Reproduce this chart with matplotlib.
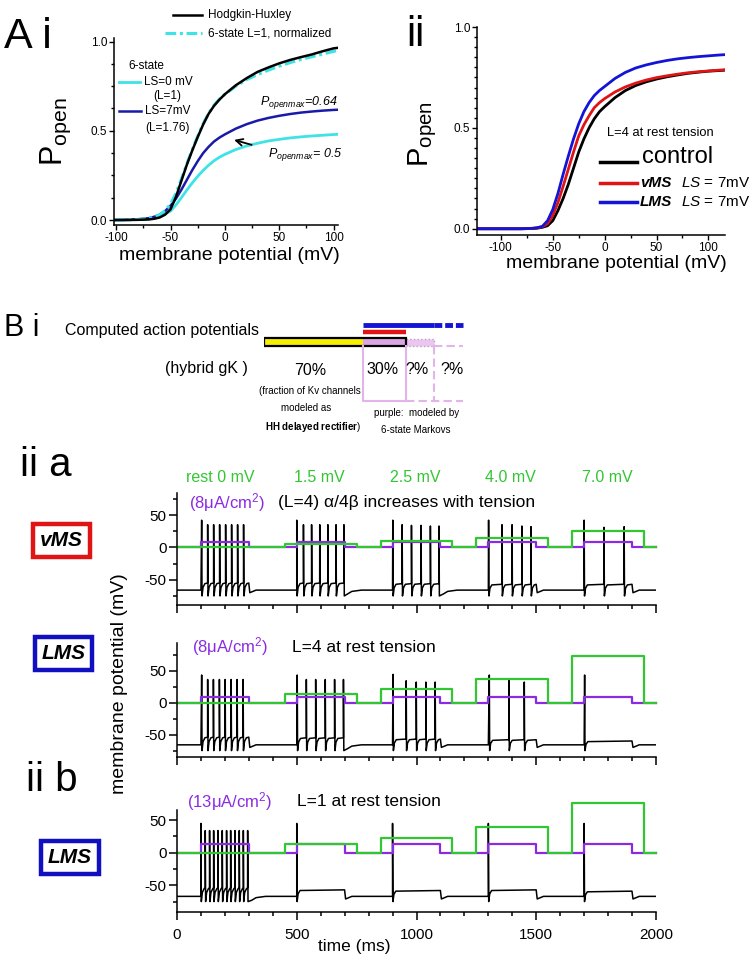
import matplotlib
matplotlib.use('Agg')
import matplotlib.pyplot as plt
from matplotlib.lines import Line2D
from matplotlib.patches import Rectangle
from matplotlib.ticker import MultipleLocator, FormatStrFormatter

plt.rcParams['font.family'] = ['Liberation Sans', 'DejaVu Sans']
plt.rcParams['mathtext.fontset'] = 'custom'
plt.rcParams['mathtext.rm'] = 'Liberation Sans'
plt.rcParams['mathtext.it'] = 'Liberation Sans:italic'
plt.rcParams['mathtext.bf'] = 'Liberation Sans:bold'
plt.rcParams['axes.unicode_minus'] = False

# ---------------- data: panel A i (P_open vs V) ----------------
ai_v = [-102, -90, -80, -70, -65, -60, -55, -50, -45, -40, -35, -30, -25, -20, -15,
        -10, -5, 0, 10, 20, 30, 40, 50, 60, 70, 80, 90, 100, 104]
ai_hh = [0, 0, 0.001, 0.003, 0.007, 0.014, 0.03, 0.06, 0.13, 0.22, 0.31, 0.39, 0.465,
         0.535, 0.595, 0.64, 0.675, 0.705, 0.755, 0.795, 0.83, 0.855, 0.878, 0.897,
         0.913, 0.928, 0.946, 0.962, 0.965]
ai_norm = [0, 0.001, 0.003, 0.008, 0.016, 0.03, 0.052, 0.09, 0.15, 0.23, 0.315, 0.395,
           0.47, 0.54, 0.598, 0.643, 0.678, 0.705, 0.75, 0.787, 0.815, 0.84, 0.862,
           0.882, 0.9, 0.915, 0.93, 0.945, 0.95]
ai_ls0 = [0, 0.001, 0.003, 0.008, 0.014, 0.024, 0.035, 0.05, 0.085, 0.125, 0.168, 0.208,
          0.245, 0.278, 0.307, 0.332, 0.352, 0.368, 0.395, 0.415, 0.43, 0.443, 0.452,
          0.46, 0.466, 0.471, 0.475, 0.479, 0.48]
ai_ls7 = [0, 0.001, 0.004, 0.01, 0.018, 0.03, 0.05, 0.08, 0.12, 0.17, 0.225, 0.28, 0.33,
          0.375, 0.41, 0.44, 0.462, 0.48, 0.512, 0.537, 0.557, 0.572, 0.584, 0.594,
          0.602, 0.608, 0.613, 0.617, 0.618]

# ---------------- data: panel A ii ----------------
aii_v = [-123, -100, -80, -70, -65, -60, -55, -50, -45, -40, -35, -30, -25, -20, -15,
         -10, -5, 0, 10, 20, 30, 40, 50, 60, 70, 80, 90, 100, 110, 116]
aii_ctrl = [0, 0, 0, 0.001, 0.003, 0.007, 0.015, 0.04, 0.09, 0.15, 0.22, 0.3, 0.38,
            0.445, 0.5, 0.545, 0.58, 0.605, 0.65, 0.685, 0.71, 0.728, 0.742, 0.753,
            0.762, 0.77, 0.776, 0.781, 0.784, 0.786]
aii_vms = [0, 0, 0, 0.002, 0.004, 0.01, 0.025, 0.065, 0.13, 0.21, 0.295, 0.38, 0.46,
           0.515, 0.56, 0.6, 0.625, 0.645, 0.678, 0.703, 0.722, 0.737, 0.749, 0.758,
           0.766, 0.773, 0.778, 0.782, 0.786, 0.788]
aii_lms = [0, 0, 0, 0.002, 0.005, 0.012, 0.04, 0.095, 0.175, 0.27, 0.36, 0.445, 0.52,
           0.58, 0.625, 0.66, 0.685, 0.705, 0.745, 0.775, 0.797, 0.812, 0.824, 0.834,
           0.842, 0.848, 0.853, 0.857, 0.861, 0.863]

# ---------------- data: panel B i ----------------
hh_frac = 70
markov_frac = 30
unknown_fracs = [20, 20]

# ---------------- data: panels ii a / ii b (traces) ----------------
stim_on = [100, 500, 900, 1300, 1700]
stim_off = [300, 700, 1100, 1500, 1900]
tension_on = [450, 850, 1250, 1650]
tension_off = [750, 1150, 1550, 1950]
tension_labels = ['rest 0 mV', '1.5 mV', '2.5 mV', '4.0 mV', '7.0 mV']

vms_current = [8, 8, 8, 8, 8]
vms_green = [5.5, 9.5, 15, 26]
vms_spikes = [103, 128, 153, 178, 203, 228, 253, 278,
              500, 528, 562, 596, 630, 664, 697,
              901, 940, 979, 1019, 1058, 1094,
              1301, 1357, 1399, 1440, 1478,
              1700, 1783, 1867]
vms_peaks = [42, 35, 35, 35, 35, 35, 35, 35,
             42, 35, 35, 35, 35, 35, 35,
             42, 35, 34, 34, 33, 33,
             42, 35, 35, 33, 32,
             42, 31, 32]
vms_plateau = [-56, -56, -57, -58, -58]
vms_rest = -66

lms_current = [8, 8, 8, 8, 8]
lms_green = [13, 21, 37, 73]
lms_spikes = [103, 128, 152, 177, 201, 226, 251, 276,
              502, 540, 579, 619, 658, 695,
              902, 957, 999, 1039, 1078,
              1304, 1386, 1450,
              1702]
lms_peaks = [43, 36, 36, 36, 36, 36, 36, 36,
             43, 36, 36, 36, 36, 36,
             44, 34, 32, 32, 32,
             43, 35, 32,
             43]
lms_plateau = [-55, -56, -58, -59, -61]
lms_rest = -66

lmsb_current = [13, 13, 13, 13, 13]
lmsb_green = [13, 23, 39, 77]
lmsb_spikes = [100, 118, 136, 153, 171, 189, 207, 224, 242, 260, 277, 295,
               500, 900, 1300, 1700]
lmsb_peaks = [45, 34, 34, 34, 34, 34, 34, 34, 34, 34, 34, 34,
              45, 45, 45, 45]
lmsb_plateau = [-55, -58, -59, -58, -60]
lmsb_rest = -67

# ---------------- colours ----------------
CYAN = '#3ee3e6'
DBLUE = '#1a1aa8'
BLUE = '#1414d6'
RED = '#e01414'
GREEN = '#33c633'
PURPLE = '#8a2be2'

W, H = 751, 960
fig = plt.figure(figsize=(W / 100, H / 100), dpi=100)
fig.patch.set_facecolor('white')


def fx(x):
    return x / W


def fy(y):
    return 1 - y / H


def box(l, t, r, b):
    return [fx(l), fy(b), (r - l) / W, (b - t) / H]


def ftext(x, y, s, **kw):
    kw.setdefault('va', 'center')
    return fig.text(fx(x), fy(y), s, **kw)


def fline(x0, x1, y, **kw):
    fig.add_artist(Line2D([fx(x0), fx(x1)], [fy(y), fy(y)],
                          transform=fig.transFigure, **kw))


def clean(ax):
    ax.spines['top'].set_visible(False)
    ax.spines['right'].set_visible(False)
    ax.spines['left'].set_linewidth(1.1)
    ax.spines['bottom'].set_linewidth(1.1)
    ax.patch.set_alpha(0)


# ================= A i =================
ax1 = fig.add_axes(box(114, 38, 338, 225))
ax1.plot(ai_v, ai_ls0, color=CYAN, lw=2)
ax1.plot(ai_v, ai_ls7, color=DBLUE, lw=1.8)
ax1.plot(ai_v, ai_norm, color=CYAN, lw=2.2, dashes=(3.5, 1.2, 1, 1.2))
ax1.plot(ai_v, ai_hh, color='k', lw=1.8)
ax1.set_xlim(-102, 104)
ax1.set_ylim(-0.028, 1.02)
clean(ax1)
ax1.set_xticks([-100, -50, 0, 50, 100])
ax1.xaxis.set_minor_locator(MultipleLocator(25))
ax1.set_yticks([0, 0.5, 1.0])
ax1.yaxis.set_minor_locator(MultipleLocator(0.125))
ax1.yaxis.set_major_formatter(FormatStrFormatter('%.1f'))
ax1.tick_params(which='major', length=3.5, width=1, labelsize=8.5, pad=1.5)
ax1.tick_params(which='minor', length=2, width=1)
ax1.annotate('', xy=(6, 0.453), xytext=(27, 0.417),
             arrowprops=dict(arrowstyle='->', lw=1.3, color='k', mutation_scale=12))
ftext(128, 66, '6-state', fontsize=8.5)
fline(119, 140, 82, color=CYAN, lw=2)
ftext(144, 82, 'LS=0 mV', fontsize=8.5)
ftext(167, 96, '(L=1)', fontsize=8.5, ha='center')
fline(119, 141, 111, color=DBLUE, lw=1.8)
ftext(145, 111, 'LS=7mV', fontsize=8.5)
ftext(167, 128, '(L=1.76)', fontsize=8.5, ha='center')
ftext(338, 103, r'$P_{openmax}$=0.64', fontsize=9, style='italic', ha='right')
ftext(343, 155, r'$P_{openmax}$= 0.5', fontsize=9, style='italic', ha='right')
fline(173, 202, 15, color='k', lw=1.8)
ftext(208, 15, 'Hodgkin-Huxley', fontsize=8.5)
fline(165, 202, 33, color=CYAN, lw=2.2, dashes=(3.5, 1.2, 1, 1.2))
ftext(208, 33, '6-state L=1, normalized', fontsize=8.5)
ftext(56, 132, r'P$_{\mathregular{open}}$', fontsize=22, rotation=90, ha='center')
ftext(229, 256, 'membrane potential (mV)', fontsize=14, ha='center')
ftext(4, 37, 'A i', fontsize=31)

# ================= A ii =================
ax2 = fig.add_axes(box(477, 27, 725, 235))
ax2.plot(aii_v, aii_ctrl, color='k', lw=2)
ax2.plot(aii_v, aii_vms, color=RED, lw=2)
ax2.plot(aii_v, aii_lms, color=BLUE, lw=2)
ax2.set_xlim(-123, 116)
ax2.set_ylim(-0.031, 1.0)
clean(ax2)
ax2.set_xticks([-100, -50, 0, 50, 100])
ax2.xaxis.set_minor_locator(MultipleLocator(25))
ax2.set_yticks([0, 0.5, 1.0])
ax2.yaxis.set_minor_locator(MultipleLocator(0.05))
ax2.yaxis.set_major_formatter(FormatStrFormatter('%.1f'))
ax2.tick_params(which='major', length=3.5, width=1, labelsize=8.5, pad=1.5)
ax2.tick_params(which='minor', length=2, width=1)
ftext(607, 133, 'L=4 at rest tension', fontsize=9.3)
fline(600, 637, 162, color='k', lw=2.5)
ftext(642, 157, 'control', fontsize=17)
fline(600, 637, 183, color=RED, lw=2.5)
ftext(640, 183, 'vMS', fontsize=11, fontweight='bold', style='italic')
ftext(681, 183, r'$\mathit{LS}$ = 7mV', fontsize=11)
fline(600, 637, 202, color=BLUE, lw=2.5)
ftext(640, 202, 'LMS', fontsize=11, fontweight='bold', style='italic')
ftext(681, 202, r'$\mathit{LS}$ = 7mV', fontsize=11)
ftext(423, 134, r'P$_{\mathregular{open}}$', fontsize=21, rotation=90, ha='center')
ftext(616, 263, 'membrane potential (mV)', fontsize=14, ha='center')
ftext(406, 35, 'ii', fontsize=30)

# ================= B i =================
bax = fig.add_axes(box(264, 318, 464, 405))
bax.set_xlim(0, 140.8)
bax.set_ylim(405, 318)
bax.axis('off')
left_m = hh_frac
right_m = hh_frac + markov_frac
q1 = right_m + unknown_fracs[0]
q2 = q1 + unknown_fracs[1]
LPUR = '#e2b4ea'
bax.add_patch(Rectangle((0, 338), hh_frac, 8, facecolor='#f6ef00', edgecolor='none'))
bax.add_patch(Rectangle((left_m, 338), markov_frac, 8, facecolor='#dca6e6', edgecolor='none'))
bax.add_patch(Rectangle((right_m, 338.5), unknown_fracs[0], 7.5, facecolor='#ebc6f1',
                        edgecolor='#b8a0c0', lw=1, ls=':'))
bax.add_patch(Rectangle((0, 338), right_m, 8, facecolor='none', edgecolor='k', lw=1.6))
bax.plot([left_m, q1], [325, 325], color=BLUE, lw=3.5, solid_capstyle='butt')
bax.plot([q1, q2], [325, 325], color=BLUE, lw=3.5, dashes=(1.6, 0.6))
bax.plot([left_m, right_m], [332, 332], color=RED, lw=3.2, solid_capstyle='butt')
bax.plot([left_m, left_m, right_m, right_m], [346, 401, 401, 346], color=LPUR, lw=1.5)
bax.plot([right_m, q2], [401, 401], color=LPUR, lw=1.5, dashes=(4, 2))
bax.plot([q1, q1], [346, 401], color=LPUR, lw=1.5, dashes=(4, 2))
bax.plot([q1, q2], [346, 346], color=LPUR, lw=1.5, dashes=(4, 2))
ftext(4, 328, 'B i', fontsize=22)
ftext(65, 331, 'Computed action potentials', fontsize=11.5)
ftext(248, 369, '(hybrid gK )', fontsize=11.5, ha='right')
ftext(310, 370, '70%', fontsize=11.5, ha='center')
ftext(383, 369, '30%', fontsize=11.5, ha='center')
ftext(417, 369, '?%', fontsize=11.5, ha='center')
ftext(452, 369, '?%', fontsize=11.5, ha='center')
ftext(310, 391, '(fraction of Kv channels', fontsize=7, ha='center')
ftext(306, 408, 'modeled as', fontsize=7, ha='center')
ftext(313, 427, r'$\mathbf{HH\ delayed\ rectifier}$)', fontsize=7, ha='center')
ftext(417, 413, 'purple:  modeled by', fontsize=7, ha='center')
ftext(416, 430, '6-state Markovs', fontsize=7, ha='center')


# ================= ii a / ii b traces =================
def build_steps(ons, offs, levels):
    t, y = [0], [0]
    for a, b, lev in zip(ons, offs, levels):
        t += [a, a, b, b]
        y += [0, lev, lev, 0]
    t.append(2000)
    y.append(0)
    return t, y


def build_trace(spikes, peaks, plateaus, rest, trough=-75):
    t, v = [0.0], [rest]
    for k, (on, off) in enumerate(zip(stim_on, stim_off)):
        seg = [(s, p) for s, p in zip(spikes, peaks) if on <= s <= off]
        plat = plateaus[k]
        t.append(on)
        v.append(rest)
        late = False
        for i, (s, p) in enumerate(seg):
            t += [s, s + 1.5]
            v += [p, trough]
            nxt = seg[i + 1][0] if i + 1 < len(seg) else off
            if i + 1 == len(seg) and off - s < 8:
                late = True
                break
            gap = nxt - s - 1.5
            r = min(12.0, 0.85 * gap)
            t += [s + 1.5 + 0.35 * r, s + 1.5 + r]
            v += [trough + 0.7 * (plat - trough), plat]
            if nxt - (s + 1.5 + r) > 1:
                t.append(nxt - 0.3)
                v.append(plat + 1)
        if late:
            t += [off + 12, off + 30, off + 70]
            v += [rest - 6, rest - 2, rest]
        else:
            t += [off + 4, off + 30]
            v += [rest - 4, rest]
    t.append(2000)
    v.append(rest)
    return t, v


def trace_panel(rect, ylim, spikes, peaks, plateaus, rest, current, green, show_x):
    ax = fig.add_axes(rect)
    tt, vv = build_trace(spikes, peaks, plateaus, rest)
    ax.plot(tt, vv, color='k', lw=1.1)
    pt, py = build_steps(stim_on, stim_off, current)
    ax.plot(pt, py, color=PURPLE, lw=1.6, clip_on=False)
    gt, gy = build_steps(tension_on, tension_off, green)
    ax.plot(gt, gy, color=GREEN, lw=1.6, clip_on=False)
    ax.set_xlim(0, 2000)
    ax.set_ylim(*ylim)
    clean(ax)
    ax.xaxis.set_major_locator(MultipleLocator(500))
    ax.xaxis.set_minor_locator(MultipleLocator(100))
    ax.set_yticks([-50, 0, 50])
    ax.yaxis.set_minor_locator(MultipleLocator(25))
    ax.tick_params(which='major', length=5.5, width=1.1, labelsize=11, pad=2)
    ax.tick_params(which='minor', length=3, width=1.1)
    if show_x:
        ax.tick_params(axis='x', pad=6)
    else:
        ax.tick_params(axis='x', labelbottom=False)
    return ax


trace_panel(box(177, 493, 656, 605), (-89, 84), vms_spikes, vms_peaks, vms_plateau,
            vms_rest, vms_current, vms_green, False)
trace_panel(box(177, 643, 656, 757), (-85, 93), lms_spikes, lms_peaks, lms_plateau,
            lms_rest, lms_current, lms_green, False)
trace_panel(box(177, 810, 656, 912), (-91, 65.6), lmsb_spikes, lmsb_peaks, lmsb_plateau,
            lmsb_rest, lmsb_current, lmsb_green, True)

for xc, lab in zip([220, 319, 415, 510, 607], tension_labels):
    ftext(xc, 478, lab, fontsize=11.5, color=GREEN, ha='center')

ftext(227, 503, r'(8μA/cm$^2$)', fontsize=12, color=PURPLE, ha='center')
ftext(278, 503, '(L=4) α/4β increases with tension', fontsize=12.5)
ftext(230, 647, r'(8μA/cm$^2$)', fontsize=12, color=PURPLE, ha='center')
ftext(292, 647, 'L=4 at rest tension', fontsize=12.5)
ftext(230, 802, r'(13μA/cm$^2$)', fontsize=12, color=PURPLE, ha='center')
ftext(297, 802, 'L=1 at rest tension', fontsize=12.5)

ftext(120, 684, 'membrane potential (mV)', fontsize=14, rotation=90, ha='center')
ftext(354, 946, 'time (ms)', fontsize=12.5, ha='center')

ftext(20, 465, 'ii a', fontsize=29)
ftext(26, 780, 'ii b', fontsize=29)

box_kw = dict(fontsize=15, fontweight='bold', style='italic', ha='center')
ftext(61.5, 540.5, 'vMS', bbox=dict(boxstyle='square,pad=0.33', fc='white', ec=RED, lw=3.2),
      **box_kw)
ftext(63.5, 653.5, 'LMS', bbox=dict(boxstyle='square,pad=0.33', fc='white', ec='#1010c0', lw=3.2),
      **box_kw)
ftext(70, 857.5, 'LMS', bbox=dict(boxstyle='square,pad=0.33', fc='white', ec='#1010c0', lw=3.2),
      **box_kw)

fig.savefig('out.png', dpi=100, facecolor='white')
